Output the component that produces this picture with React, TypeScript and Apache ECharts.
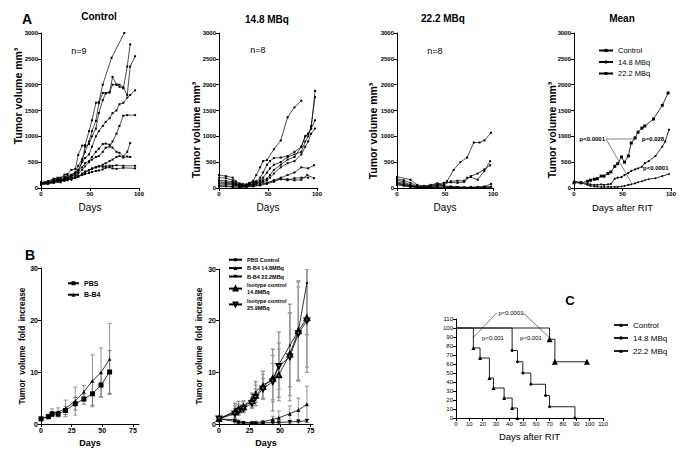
import React, { useEffect, useRef } from "react";
import * as echarts from "echarts";

const FONT = '"Liberation Sans", Arial, sans-serif';

// ---------- Panel A: individual tumour volumes (day, mm3) ----------
const controlLines: number[][][] = [
  [[0,80],[7,110],[13,170],[17,200],[20,190],[24,260],[27,270],[31,350],[35,370],[38,640],[42,820],[45,830],[49,1100],[52,1310],[56,1650],[59,1660],[63,2000],[72,2520],[85,3000]],
  [[0,100],[7,120],[13,150],[17,170],[20,150],[24,200],[27,240],[31,260],[35,300],[38,430],[42,560],[45,700],[49,900],[52,1100],[56,1300],[59,1640],[63,1840],[66,1840],[70,1850],[73,2150],[77,2000],[80,1960],[84,1930],[88,2350],[91,2780]],
  [[0,90],[7,100],[13,130],[17,160],[20,140],[24,180],[27,200],[31,230],[35,250],[38,300],[42,520],[45,800],[49,850],[52,1000],[56,1150],[59,1450],[63,1700],[66,1830],[70,1850],[73,2000],[77,2000],[80,2000],[84,1950],[88,1800],[91,2350],[96,2550]],
  [[0,70],[7,90],[13,140],[17,130],[20,160],[24,170],[27,160],[31,230],[35,280],[38,350],[42,500],[45,580],[49,650],[52,800],[56,1000],[59,1100],[63,1200],[66,1280],[70,1350],[73,1450],[77,1500],[80,1620],[84,1650],[88,1750],[91,1800],[96,1890]],
  [[0,60],[7,80],[13,100],[17,120],[20,110],[24,150],[27,180],[31,200],[35,220],[38,280],[42,350],[45,420],[49,500],[52,550],[56,600],[59,620],[63,700],[66,780],[70,800],[73,900],[77,1050],[80,1200],[84,1400],[88,1410],[96,1410]],
  [[0,110],[7,130],[13,180],[17,170],[20,200],[24,220],[27,200],[31,250],[35,300],[38,330],[42,400],[45,480],[49,520],[52,600],[56,700],[59,760],[63,850],[66,860],[70,840],[73,780],[77,700],[80,680],[84,610],[88,700],[91,870]],
  [[0,80],[7,90],[13,110],[17,140],[20,130],[24,160],[27,150],[31,180],[35,200],[38,220],[42,260],[45,300],[49,340],[52,380],[56,400],[59,420],[63,450],[66,480],[70,520],[73,550],[77,600],[80,620],[84,590],[88,610],[91,600]],
  [[0,90],[7,100],[13,130],[17,150],[20,140],[24,170],[27,180],[31,200],[35,190],[38,230],[42,280],[45,320],[49,350],[52,370],[56,400],[59,420],[63,410],[66,420],[70,430],[73,430],[77,440],[84,430],[96,430]],
  [[0,100],[7,120],[13,100],[17,130],[20,150],[24,140],[27,180],[31,160],[35,200],[38,220],[42,250],[45,270],[49,290],[52,310],[56,330],[59,340],[63,360],[66,390],[70,400],[73,380],[77,370],[84,390],[96,380]],
];

const mbq148Lines: number[][][] = [
  [[0,250],[7,230],[14,200],[17,130],[21,90],[24,60],[28,60],[31,100],[35,140],[38,250],[42,400],[45,520],[49,540],[56,750],[63,920],[70,1370],[77,1560],[84,1690]],
  [[0,200],[7,190],[14,150],[17,100],[21,70],[24,80],[28,70],[31,90],[35,120],[38,130],[42,200],[45,300],[49,450],[52,520],[56,580],[63,590],[70,620],[77,700],[84,800],[88,1000],[91,1050],[94,1150],[98,1880]],
  [[0,150],[7,140],[14,120],[17,80],[21,60],[24,50],[28,60],[31,80],[35,100],[38,120],[42,150],[45,200],[49,300],[52,380],[56,450],[63,500],[70,600],[77,650],[84,700],[88,900],[91,1000],[94,1200],[98,1760]],
  [[0,120],[7,110],[14,100],[17,70],[21,50],[24,40],[28,40],[31,60],[35,80],[38,100],[42,120],[45,150],[49,180],[52,250],[56,350],[63,450],[70,550],[77,600],[84,800],[88,1000],[91,1050],[94,1150],[98,1310]],
  [[0,100],[7,90],[14,80],[17,60],[21,40],[24,30],[28,30],[31,50],[35,60],[38,80],[42,100],[45,120],[49,150],[52,200],[56,280],[63,400],[70,480],[77,520],[84,650],[88,800],[91,900],[94,1050],[98,1150]],
  [[0,80],[7,70],[14,60],[21,40],[28,50],[35,60],[42,80],[49,100],[56,150],[63,200],[70,250],[77,300],[84,400],[91,380],[97,440]],
  [[0,50],[7,40],[14,30],[21,20],[28,30],[35,40],[42,60],[49,100],[56,140],[63,170],[70,170],[77,150],[84,160],[90,250],[97,190]],
  [[0,30],[7,30],[14,20],[21,10],[28,20],[35,30],[42,50],[49,80],[56,120],[63,180],[70,150],[77,190],[84,200],[91,200]],
];

const mbq222Lines: number[][][] = [
  [[0,150],[7,120],[14,60],[21,30],[28,20],[35,30],[42,60],[49,80],[52,130],[59,350],[66,500],[73,590],[80,880],[86,880],[91,920],[98,1070]],
  [[0,100],[14,40],[21,20],[28,10],[35,20],[42,40],[49,60],[56,130],[63,140],[70,140],[73,200],[77,210],[84,160],[91,330],[97,520]],
  [[0,220],[14,160],[21,60],[28,40],[35,50],[42,80],[49,100],[56,110],[63,100],[70,120],[77,230],[84,280],[91,360],[97,440]],
  [[0,80],[14,30],[21,20],[28,10],[35,10],[42,20],[49,10],[56,20],[63,10],[70,10],[77,20],[84,20],[91,30],[98,80]],
  [[0,90],[7,60],[14,30],[21,10],[28,5],[35,5],[42,10],[49,20],[56,10],[63,5],[70,5],[77,10],[84,5],[91,10],[98,20]],
  [[0,60],[7,40],[14,20],[21,10],[28,10],[35,0],[42,0],[49,0],[56,0],[63,0],[70,0],[77,0],[84,0],[91,0],[98,0]],
  [[0,180],[7,150],[14,100],[21,40],[28,30],[35,60],[42,90],[49,40],[56,30],[63,20],[70,10],[77,10],[84,10],[91,20],[98,30]],
  [[0,120],[7,90],[14,50],[21,30],[28,20],[35,30],[42,50],[49,30],[56,20],[63,20],[70,10],[77,0],[84,0],[91,0],[98,0]],
];

const meanControl = [[0,100],[7,100],[14,130],[17,150],[21,170],[24,180],[28,230],[31,230],[35,280],[38,310],[42,420],[45,470],[49,600],[52,500],[56,620],[59,870],[63,970],[66,1080],[70,1160],[73,1200],[82,1335],[91,1600],[97,1840]];
const mean148 = [[0,120],[7,110],[14,80],[17,70],[21,60],[24,60],[28,70],[31,60],[35,70],[38,80],[42,180],[45,200],[49,210],[52,250],[56,290],[59,330],[63,360],[66,380],[70,410],[73,480],[77,520],[84,620],[91,800],[94,900],[98,1130]];
const mean222 = [[0,130],[7,100],[14,60],[17,40],[21,30],[24,25],[28,20],[31,20],[35,20],[38,20],[42,20],[45,20],[49,30],[52,40],[56,60],[59,70],[63,90],[66,110],[70,130],[73,150],[77,170],[84,190],[91,230],[98,270]];
const pHorizontal = [[33,948],[63,948]];
const pDiagonal = [[33,948],[59,110]];

// ---------- Panel B: fold increase ----------
const bLeftDays = [0, 6, 9, 14, 20, 28, 35, 42, 49, 56];
const pbsFold = [1, 1.4, 1.9, 1.9, 2.6, 3.9, 4.8, 5.8, 7.5, 10];
const pbsSd = [0, 0.3, 0.5, 0.5, 0.8, 1.2, 1.0, 2.2, 2.3, 4.1];
const bb4Fold = [1, 1.5, 2.2, 2.3, 3.0, 4.4, 6.2, 8.3, 9.9, 12.5];
const bb4Sd = [0, 0.4, 0.7, 0.8, 1.6, 2.7, 1.2, 5.0, 4.7, 6.8];

const bRightDays = [0, 13, 16, 20, 27, 30, 36, 44, 49, 58, 65, 72];
const pbsCtrl = [1, 2.5, 3.2, 3.5, 4.8, 6.2, 7.6, 8.5, 11.5, 15.2, 18, 27.3];
const pbsCtrlSd = [0, 1.5, 1.2, 1.0, 1.2, 2.0, 2.6, 6, 6.3, 8, 9.7, 10];
const b4148 = [1, 0.8, 0.5, 0.3, 0.3, 0.3, 0.4, 0.9, 1.2, 2.0, 2.7, 3.8];
const b4148Sd = [0, 0.4, 0.3, 0.2, 0.2, 0.2, 0.3, 0.6, 1.3, 1.5, 2.3, 3.5];
const b4222 = [1, 0.5, 0.3, 0.2, 0.1, 0.1, 0.2, 0.3, 0.3, 0.4, 0.5, 0.6];
const b4222Sd = [0, 0.3, 0.2, 0.1, 0.1, 0.1, 0.1, 0.2, 0.2, 0.3, 0.3, 0.3];
const iso148 = [1, 2.3, 2.8, 3.3, 4.5, 5.5, 7.2, 8.8, 9.5, 13.5, 18, 20.5];
const iso148Sd = [0, 1.3, 1.0, 1.0, 1.3, 2.0, 2.4, 4.5, 5.0, 8, 9.5, 9.5];
const iso259 = [1, 2.0, 2.5, 3.0, 4.0, 5.2, 6.8, 8.2, 11.2, 13.0, 17.5, 20];
const iso259Sd = [0, 1.0, 0.8, 0.8, 1.0, 1.6, 2.0, 3.5, 4.5, 8.5, 9, 10];

// ---------- Panel C: survival ----------
const kmControl = [[0,100],[13,77.8],[18,66.7],[25,44.4],[28,33.3],[36,22.2],[42,11.1],[46,0]];
const km148 = [[0,100],[42,75],[46,62.5],[50,50],[56,37.5],[67,25],[70,12.5],[89,0]];
const km222 = [[0,100],[70,87.5],[74,62.5],[98,62.5]];
const kmP1 = [[30.6,117],[12.7,89]];
const kmP2 = [[50,117],[70.2,89]];

const dayTicksB = [0, 25, 50, 75];

const zip = (days: number[], vals: number[]) => days.map((d, i) => [d, vals[i]]);
const errData = (days: number[], vals: number[], sd: number[]) =>
  days.map((d, i) => [d, Math.max(0, vals[i] - sd[i]), vals[i] + sd[i]]).filter((r, i) => sd[i] > 0);

function baseAxis(fs: number, bold: boolean) {
  return {
    axisLine: { show: true, onZero: false, lineStyle: { color: "#000", width: 1 } },
    axisTick: { show: true, length: 3, lineStyle: { color: "#000", width: 1 } },
    splitLine: { show: false },
    axisLabel: {
      color: "#000", fontSize: fs, fontWeight: bold ? "bold" : "normal", fontFamily: FONT, margin: 3,
      formatter: (v: number) => String(v),
    },
  };
}

function txt(x: number, y: number, text: string, font: string, rot = 0, align = "center") {
  return {
    type: "text", x, y, rotation: rot, silent: true,
    style: { text, font, fill: "#000", textAlign: align, textVerticalAlign: "middle", align, verticalAlign: "middle" },
  };
}

function errSeries(xi: number, data: number[][], color: string, width: number) {
  return {
    type: "custom", xAxisIndex: xi, yAxisIndex: xi, data, clip: true, silent: true, z: 1,
    encode: { x: 0, y: [1, 2] },
    renderItem: (params: any, api: any) => {
      const x = api.value(0), lo = api.value(1), hi = api.value(2);
      const a = api.coord([x, lo]);
      const b = api.coord([x, hi]);
      const cap = 2;
      const st = { stroke: color, lineWidth: width, fill: null };
      return {
        type: "group",
        children: [
          { type: "line", shape: { x1: a[0], y1: a[1], x2: b[0], y2: b[1] }, style: st },
          { type: "line", shape: { x1: a[0] - cap, y1: a[1], x2: a[0] + cap, y2: a[1] }, style: st },
          { type: "line", shape: { x1: b[0] - cap, y1: b[1], x2: b[0] + cap, y2: b[1] }, style: st },
        ],
      };
    },
  };
}

function aLine(data: number[][], xi: number) {
  return {
    type: "line", xAxisIndex: xi, yAxisIndex: xi, data, symbol: "rect", symbolSize: 2,
    lineStyle: { color: "#000", width: 0.7 }, itemStyle: { color: "#000" }, silent: true, z: 3,
  };
}

export default function App() {
  const ref = useRef<HTMLDivElement>(null);
  useEffect(() => {
    if (!ref.current) return;
    const chart = echarts.init(ref.current, undefined, { renderer: "svg" });

    const grids = [
      { left: 41, top: 33, width: 98, height: 155 },
      { left: 219, top: 33, width: 98, height: 155 },
      { left: 397, top: 33, width: 96, height: 155 },
      { left: 574, top: 33, width: 97, height: 155 },
      { left: 41, top: 268, width: 98, height: 156 },
      { left: 219, top: 269, width: 94, height: 155 },
      { left: 456, top: 319, width: 147, height: 99 },
    ].map((g) => ({ ...g, containLabel: false, outerBoundsMode: "none" }));

    const nameStyle = (fs: number, bold: boolean) => ({ fontSize: fs, fontFamily: FONT, color: "#000", fontWeight: bold ? "bold" : "normal" });

    const xAxes: any[] = [];
    const yAxes: any[] = [];
    for (let i = 0; i < 4; i++) {
      xAxes.push({
        type: "value", gridIndex: i, min: 0, max: 100, interval: 50, ...baseAxis(6, true),
        name: i === 3 ? "Days after RIT" : "Days", nameLocation: "middle", nameGap: 14,
        nameTextStyle: nameStyle(i === 3 ? 9.5 : 10, false),
      });
      yAxes.push({ type: "value", gridIndex: i, min: 0, max: 3000, interval: 500, ...baseAxis(6, true) });
    }
    const bx = (gi: number, max: number) => {
      const b = baseAxis(7, true);
      return {
        type: "value", gridIndex: gi, min: 0, max, interval: 25, ...b,
        axisLabel: { ...b.axisLabel, customValues: dayTicksB },
        axisTick: { ...b.axisTick, customValues: dayTicksB },
        name: "Days", nameLocation: "middle", nameGap: 14, nameTextStyle: nameStyle(9, true),
      };
    };
    xAxes.push(bx(4, 80));
    yAxes.push({ type: "value", gridIndex: 4, min: 0, max: 30, interval: 10, ...baseAxis(7, true) });
    xAxes.push(bx(5, 77));
    yAxes.push({ type: "value", gridIndex: 5, min: 0, max: 30, interval: 10, ...baseAxis(7, true) });
    xAxes.push({
      type: "value", gridIndex: 6, min: 0, max: 110, interval: 10, ...baseAxis(6, false),
      name: "Days after RIT", nameLocation: "middle", nameGap: 13, nameTextStyle: nameStyle(9.5, false),
    });
    yAxes.push({ type: "value", gridIndex: 6, min: 0, max: 110, interval: 10, ...baseAxis(6, false) });

    const series: any[] = [];
    controlLines.forEach((l) => series.push(aLine(l, 0)));
    mbq148Lines.forEach((l) => series.push(aLine(l, 1)));
    mbq222Lines.forEach((l) => series.push(aLine(l, 2)));

    // Mean panel
    series.push({ name: "mean:Control", type: "line", xAxisIndex: 3, yAxisIndex: 3, data: meanControl, symbol: "rect", symbolSize: 3, lineStyle: { color: "#000", width: 0.8 }, itemStyle: { color: "#000" }, z: 4 });
    series.push({ name: "mean:14.8 MBq", type: "line", xAxisIndex: 3, yAxisIndex: 3, data: mean148, symbol: "circle", symbolSize: 2.2, lineStyle: { color: "#000", width: 0.8 }, itemStyle: { color: "#000" }, z: 4 });
    series.push({ name: "mean:22.2 MBq", type: "line", xAxisIndex: 3, yAxisIndex: 3, data: mean222, symbol: "circle", symbolSize: 1.8, lineStyle: { color: "#000", width: 0.8 }, itemStyle: { color: "#000" }, z: 4 });
    [pHorizontal, pDiagonal].forEach((d) =>
      series.push({ type: "line", xAxisIndex: 3, yAxisIndex: 3, data: d, symbol: "none", lineStyle: { color: "#777", width: 0.9 }, silent: true, z: 2 })
    );

    // B left
    series.push(errSeries(4, errData(bLeftDays, pbsFold, pbsSd), "#555", 0.8));
    series.push(errSeries(4, errData(bLeftDays, bb4Fold, bb4Sd), "#777", 0.8));
    series.push({ name: "PBS", type: "line", xAxisIndex: 4, yAxisIndex: 4, data: zip(bLeftDays, pbsFold), symbol: "rect", symbolSize: 5, lineStyle: { color: "#000", width: 0.8 }, itemStyle: { color: "#000" }, z: 4 });
    series.push({ name: "B-B4", type: "line", xAxisIndex: 4, yAxisIndex: 4, data: zip(bLeftDays, bb4Fold), symbol: "triangle", symbolSize: 3.5, lineStyle: { color: "#000", width: 0.8 }, itemStyle: { color: "#000" }, z: 4 });

    // B right
    series.push(errSeries(5, errData(bRightDays, pbsCtrl, pbsCtrlSd), "#888", 1.2));
    series.push(errSeries(5, errData(bRightDays, iso148, iso148Sd), "#999", 1.2));
    series.push(errSeries(5, errData(bRightDays, iso259, iso259Sd), "#999", 1.2));
    series.push(errSeries(5, errData(bRightDays, b4148, b4148Sd), "#888", 0.9));
    series.push(errSeries(5, errData(bRightDays, b4222, b4222Sd), "#888", 0.9));
    const bR = (name: string, vals: number[], symbol: string, size: number, rot = 0) => ({
      name, type: "line", xAxisIndex: 5, yAxisIndex: 5, data: zip(bRightDays, vals), symbol, symbolSize: size, symbolRotate: rot,
      lineStyle: { color: "#000", width: 0.8 }, itemStyle: { color: "#000" }, z: 4,
    });
    series.push(bR("PBS Control", pbsCtrl, "circle", 2.2));
    series.push(bR("B-B4 14.8MBq", b4148, "triangle", 4));
    series.push(bR("B-B4 22.2MBq", b4222, "triangle", 4, 180));
    series.push(bR("Isotype control\n14.8MBq", iso148, "emptyTriangle", 4.5));
    series.push(bR("Isotype control\n25.9MBq", iso259, "emptyTriangle", 4.5, 180));

    // C
    const km = (name: string, d: number[][], symbol: string, size: number) => ({
      name, type: "line", step: "end", xAxisIndex: 6, yAxisIndex: 6,
      data: d.map((p, i) => (i === 0 ? { value: p, symbol: "none" } : p)),
      symbol, symbolSize: size, lineStyle: { color: "#222", width: 1 }, itemStyle: { color: "#000" }, z: 4,
    });
    series.push(km("c:Control", kmControl, "triangle", 4));
    series.push(km("c:14.8 MBq", km148, "circle", 3));
    series.push(km("c:22.2 MBq", km222, "triangle", 6));
    [kmP1, kmP2].forEach((d) =>
      series.push({ type: "line", xAxisIndex: 6, yAxisIndex: 6, data: d, symbol: "none", clip: false, lineStyle: { color: "#555", width: 0.8 }, silent: true })
    );

    const strip = (n: string) => (n.indexOf(":") >= 0 ? n.split(":")[1] : n);
    const flat = { borderWidth: 0 };
    const legends = [
      {
        left: 598, top: 46, orient: "vertical", padding: 0, itemWidth: 14, itemHeight: 4, itemGap: 2.5,
        itemStyle: flat,
        data: ["mean:Control", "mean:14.8 MBq", "mean:22.2 MBq"], formatter: strip,
        textStyle: { fontSize: 7.5, fontFamily: FONT, color: "#000", lineHeight: 9 }, selectedMode: false,
      },
      {
        left: 67, top: 279, orient: "vertical", padding: 0, itemWidth: 11, itemHeight: 5, itemGap: 3,
        itemStyle: flat,
        data: ["PBS", "B-B4"],
        textStyle: { fontSize: 7, fontWeight: "bold", fontFamily: FONT, color: "#000", lineHeight: 8.5 }, selectedMode: false,
      },
      {
        left: 228, top: 256, orient: "vertical", padding: 0, itemWidth: 13, itemHeight: 4.5, itemGap: 1,
        itemStyle: flat,
        data: [
          "PBS Control", "B-B4 14.8MBq", "B-B4 22.2MBq",
          { name: "Isotype control\n14.8MBq", itemStyle: { borderWidth: 0.8 } },
          { name: "Isotype control\n25.9MBq", itemStyle: { borderWidth: 0.8 } },
        ],
        textStyle: { fontSize: 5.5, fontWeight: "bold", fontFamily: FONT, color: "#000", lineHeight: 7.4 }, selectedMode: false,
      },
      {
        left: 613, top: 320, orient: "vertical", padding: 0, itemWidth: 14, itemHeight: 4.5, itemGap: 3,
        itemStyle: flat,
        data: ["c:Control", "c:14.8 MBq", "c:22.2 MBq"], formatter: strip,
        textStyle: { fontSize: 8, fontFamily: FONT, color: "#000", lineHeight: 10 }, selectedMode: false,
      },
    ];

    const B = (s: number) => `bold ${s}px ${FONT}`;
    const N = (s: number) => `${s}px ${FONT}`;
    const yName = "Tumor volume mm\u00B3";
    const bName = "Tumor  volume  fold  increase";
    const graphic = [
      txt(27, 19, "A", B(14)),
      txt(99, 16, "Control", B(10)),
      txt(267, 19, "14.8 MBq", B(10)),
      txt(443, 18, "22.2 MBq", B(10)),
      txt(622, 18, "Mean", B(10)),
      txt(79, 51, "n=9", N(9)),
      txt(258, 50, "n=8", N(9)),
      txt(435, 51, "n=8", N(9)),
      txt(18, 96, yName, B(10.5), Math.PI / 2),
      txt(196, 130, yName, B(10.5), Math.PI / 2),
      txt(373, 131, yName, B(10.5), Math.PI / 2),
      txt(552, 130, yName, B(10.5), Math.PI / 2),
      txt(605, 139, "p<0.0001", B(6), 0, "right"),
      txt(642, 139, "p=0.028", B(6), 0, "left"),
      txt(643, 168, "p<0.0001", B(6), 0, "left"),
      txt(30, 255, "B", B(14)),
      txt(22, 346, bName, B(8.3), Math.PI / 2),
      txt(199, 346, bName, B(8.3), Math.PI / 2),
      txt(570, 300, "C", B(13)),
      txt(511, 313, "p<0.0001", N(6)),
      txt(493, 338, "p<0.001", N(6)),
      txt(531, 338, "p<0.001", N(6)),
    ];

    chart.setOption({
      animation: false,
      backgroundColor: "#fff",
      grid: grids,
      xAxis: xAxes,
      yAxis: yAxes,
      legend: legends,
      series,
      graphic,
    });
    return () => chart.dispose();
  }, []);
  return <div ref={ref} style={{ position: "fixed", left: 0, top: 0, width: 685, height: 452, background: "#fff" }} />;
}
